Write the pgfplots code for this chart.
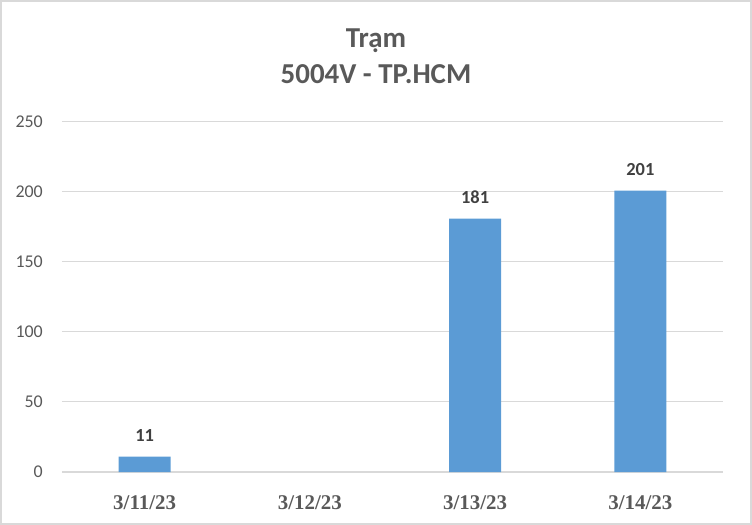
\documentclass[border=0pt]{standalone}
\usepackage{fontspec}
\setmainfont{Liberation Serif}
\newfontfamily\calibri{Carlito}
\usepackage{pgfplots}
\pgfplotsset{compat=1.18}

\definecolor{barblue}{HTML}{5B9BD5}
\definecolor{gridgray}{HTML}{D9D9D9}
\definecolor{txtgray}{HTML}{595959}
\definecolor{lblgray}{HTML}{404040}

\begin{document}
\begin{tikzpicture}
\begin{axis}[
    scale only axis,
    width=661bp, height=350bp,
    xmin=-0.5, xmax=3.5,
    ymin=0, ymax=250,
    ytick={0,50,...,250},
    xtick={0,1,2,3},
    xticklabels={3/11/23, 3/12/23, 3/13/23, 3/14/23},
    axis lines*=left,
    separate axis lines,
    x axis line style={draw=gridgray, line width=1.5bp},
    y axis line style={draw=none},
    ymajorgrids,
    major grid style={draw=gridgray, line width=1bp},
    xtick style={draw=none},
    ytick style={draw=none},
    extra x ticks={-0.5,0.5,1.5,2.5,3.5},
    extra x tick labels={},
    extra x tick style={draw=gridgray, line width=1.5bp, major tick length=6bp, tick align=outside, grid=none},
    xticklabel style={anchor=base, yshift=-33bp, font=\fontsize{21}{21}\selectfont\bfseries, text=txtgray},
    yticklabel style={anchor=east, inner sep=0pt, xshift=-19bp, font=\calibri\fontsize{18}{18}\selectfont, text=txtgray},
    /pgf/number format/assume math mode=true,
    ybar,
    bar width=52bp,
    bar shift=0pt,
    clip=false,
    nodes near coords,
    every node near coord/.append style={anchor=base, yshift=15.5bp, inner sep=0pt,
        font=\calibri\fontsize{18.5}{18.5}\selectfont\bfseries, text=lblgray},
]
\addplot[fill=barblue, draw=none] coordinates {
    (0,11)
    (2,181)
    (3,201)
};
\coordinate (O) at (rel axis cs:0,0);
\end{axis}
\node[anchor=base, font=\calibri\fontsize{29}{29}\selectfont\bfseries, text=txtgray] at ([shift={(314bp,424bp)}]O) {Trạm};
\node[anchor=base, font=\calibri\fontsize{29}{29}\selectfont\bfseries, text=txtgray] at ([shift={(314bp,388bp)}]O) {5004V - TP.HCM};
\draw[gridgray, line width=2bp] ([shift={(-61bp,-52bp)}]O) rectangle ([shift={(689bp,471bp)}]O);
\end{tikzpicture}
\end{document}
